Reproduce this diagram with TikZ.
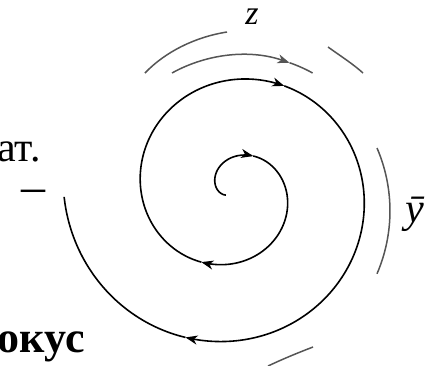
\documentclass[tikz,border=0pt]{standalone}
\usepackage{fontspec}
\setmainfont{Liberation Serif}
\usepackage{tikz}
\usetikzlibrary{arrows.meta}
\definecolor{faded}{RGB}{85,85,85}

\begin{document}
\begin{tikzpicture}[x=0.5pt, y=-0.5pt, >={Stealth[length=6pt, width=4.5pt, inset=1.8pt]},
  traj/.style={line width=0.8pt, black},
  ghost/.style={line width=0.75pt, faded},
  lbl/.style={inner sep=0pt, anchor=base, font=\fontsize{17}{17}\selectfont\itshape},
  txt/.style={inner sep=0pt, anchor=base east},
  declare function={sr(\t)=0.215*(\t-112);}]
  \useasboundingbox (0,0) rectangle (433,365);
  \clip (0,0) rectangle (433,365);
  % the focus: one spiral, cut where the arrows sit
  \foreach \a/\b in {150/300, 300/474, 474/656, 656/828}
    \draw[traj,->] plot[domain=\a:\b, samples=60, smooth] ({233+sr(\x)*cos(\x)},{191+sr(\x)*sin(\x)});
  \draw[traj] plot[domain=828:898, samples=30, smooth] ({233+sr(\x)*cos(\x)},{191+sr(\x)*sin(\x)});
  % pieces of the outer turns
  \draw[ghost] (145,73) .. controls (165,52) and (195,37) .. (227,32);
  \draw[ghost,->] (172,73) arc[start angle=241, end angle=289, radius=145] coordinate (g1);
  \draw[ghost] (g1) arc[start angle=289, end angle=299, radius=145];
  \draw[ghost] (328,47) .. controls (342,57) and (353,64) .. (363,73);
  \draw[ghost] (377,148) arc[start angle=-23.3, end angle=23.3, radius=159];
  \draw[ghost] (268,366) .. controls (285,358) and (300,352) .. (313,347);
  % labels
  \node[lbl, text height=8pt] (lz) at (252,24) {z};
  \node[lbl, font=\fontsize{21}{21}\selectfont\itshape] (ly) at (415,222) {\=y};
  \node[inner sep=0pt, anchor=base, text height=1pt, text depth=0pt, font=\fontsize{24}{24}\selectfont] (dash) at (33,202) {–};
  \node[txt, text depth=0pt, font=\fontsize{21}{21}\selectfont] (atxt) at (41,161) {ат.};
  \node[txt, font=\fontsize{22}{22}\selectfont\bfseries] (fokus) at (85,352) {окус};
\end{tikzpicture}
\end{document}
